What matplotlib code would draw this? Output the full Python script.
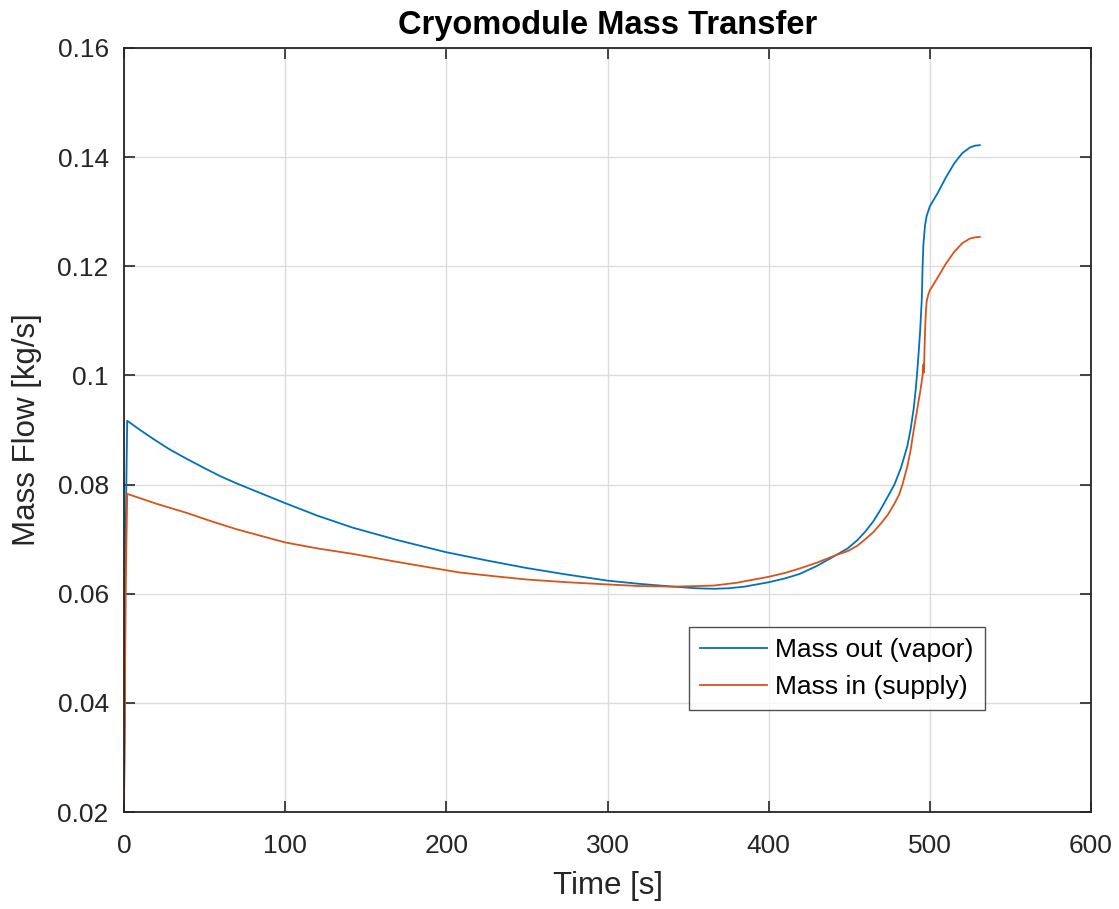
import matplotlib.pyplot as plt
import numpy as np

# time [s] and mass flow [kg/s] for vapor leaving the cryomodule
t_out = [0, 0.5, 1, 2, 10, 18, 28, 39, 50, 60, 70, 80, 90, 100, 120, 142,
         170, 200, 225, 250, 275, 300, 320, 341, 355, 366, 375, 385, 400,
         410, 419, 430, 442, 449, 455, 460, 465, 469, 473, 478, 482, 486,
         488, 490, 491, 492, 493, 494, 495, 495.5, 496, 497, 498, 500, 505,
         510, 515, 520, 525, 528, 531]
m_out = [0.022, 0.040, 0.070, 0.0917, 0.0900, 0.0884, 0.0865, 0.0847, 0.0830,
         0.0815, 0.0802, 0.0790, 0.0778, 0.0766, 0.0743, 0.0721, 0.0698,
         0.0676, 0.0661, 0.0647, 0.0635, 0.0624, 0.0618, 0.0613, 0.0610,
         0.0609, 0.0610, 0.0613, 0.0621, 0.0628, 0.0636, 0.0651, 0.0671,
         0.0683, 0.0698, 0.0714, 0.0733, 0.0752, 0.0773, 0.0800, 0.0830,
         0.0870, 0.0900, 0.0940, 0.0968, 0.1000, 0.1040, 0.1083, 0.1140,
         0.1200, 0.1240, 0.1275, 0.1292, 0.1310, 0.1335, 0.1363, 0.1388,
         0.1407, 0.1418, 0.1421, 0.1422]

# supply mass flow into the cryomodule
t_in = [0, 0.5, 1, 2, 20, 39, 55, 70, 85, 100, 120, 142, 170, 208, 230, 250,
        275, 300, 320, 341, 355, 366, 380, 400, 410, 419, 430, 442, 449,
        455, 460, 465, 470, 474, 478, 481, 483, 486, 488, 490, 492, 494,
        495.5, 496, 496.3, 496.6, 497, 497.5, 498, 499, 500, 505, 510, 515,
        520, 525, 528, 531]
m_in = [0.0215, 0.035, 0.060, 0.0783, 0.0765, 0.0748, 0.0732, 0.0718, 0.0706,
        0.0694, 0.0683, 0.0673, 0.0658, 0.0639, 0.0632, 0.0626, 0.0621,
        0.0617, 0.0614, 0.0613, 0.0614, 0.0615, 0.0620, 0.0631, 0.0638,
        0.0646, 0.0657, 0.0671, 0.0678, 0.0688, 0.0700, 0.0713, 0.0730,
        0.0745, 0.0765, 0.0782, 0.0800, 0.0833, 0.0862, 0.0900, 0.0935,
        0.0970, 0.1000, 0.1020, 0.1005, 0.1040, 0.1080, 0.1115, 0.1135,
        0.1148, 0.1156, 0.1180, 0.1205, 0.1226, 0.1242, 0.1251, 0.1253,
        0.1254]

xticks = [0, 100, 200, 300, 400, 500, 600]
yticks = [0.02, 0.04, 0.06, 0.08, 0.1, 0.12, 0.14, 0.16]
ytick_labels = ['0.02', '0.04', '0.06', '0.08', '0.1', '0.12', '0.14', '0.16']

plt.rcParams['font.family'] = ['Liberation Sans', 'DejaVu Sans']
dark = '#262626'

fig = plt.figure(figsize=(11.19, 9.09), dpi=100)
ax = fig.add_axes([0.1108, 0.1067, 0.8642, 0.8405])

ax.plot(t_out, m_out, color='#0072BD', lw=1.3, label='Mass out (vapor)')
ax.plot(t_in, m_in, color='#D95319', lw=1.3, label='Mass in (supply)')

ax.set_xlim(0, 600)
ax.set_ylim(0.02, 0.16)
ax.set_xticks(xticks)
ax.set_yticks(yticks)
ax.set_yticklabels(ytick_labels)
ax.grid(True, color='#dcdcdc', lw=1.0)
ax.set_axisbelow(True)

ax.tick_params(direction='in', length=8, width=1.2, top=True, right=True,
               labelsize=19, colors=dark)
ax.tick_params(axis='x', pad=16)
ax.tick_params(axis='y', pad=11)
for s in ax.spines.values():
    s.set_color(dark)
    s.set_linewidth(1.3)

ax.set_xlabel('Time [s]', fontsize=22.5, color=dark, labelpad=9)
ax.set_ylabel('Mass Flow [kg/s]', fontsize=22.5, color=dark, labelpad=11)
ax.set_title('Cryomodule Mass Transfer', fontsize=23.5, fontweight='bold',
             color='black', pad=10)

leg = ax.legend(loc='upper right', bbox_to_anchor=(0.89, 0.242), fontsize=19,
                frameon=True, fancybox=False, borderaxespad=0,
                handlelength=2.55, handletextpad=0.3, borderpad=0.42,
                labelspacing=0.48)
leg.get_frame().set_edgecolor(dark)
leg.get_frame().set_linewidth(1.0)
for txt in leg.get_texts():
    txt.set_color('black')

fig.savefig('out.png', dpi=100, facecolor='white')
